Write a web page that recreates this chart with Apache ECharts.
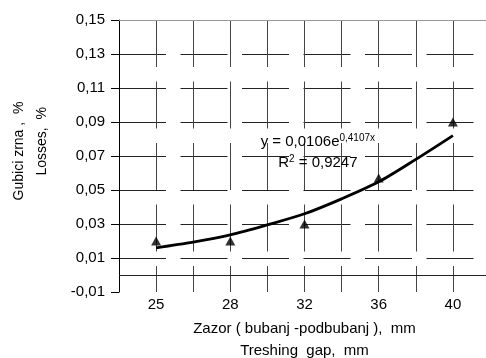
<!doctype html>
<html>
<head>
<meta charset="utf-8">
<title>Gubici zrna - zazor</title>
<script src="https://cdn.jsdelivr.net/npm/echarts@6/dist/echarts.min.js"></script>
<style>
	html, body { margin: 0; padding: 0; background: #fff; }
	#main { width: 486px; height: 358px; }
</style>
</head>
<body>
<div id="main"></div>
<script>
	// x categories: zazor (bubanj - podbubanj), mm
	var gaps = ['25', '28', '32', '36', '40'];
	// measured losses, %
	var losses = [0.02, 0.02, 0.03, 0.057, 0.09];
	// trend line (x = category number)
	var trendX = [1, 1.5, 2, 2.5, 3, 3.5, 4, 4.5, 5];
	var trendY = [0.016, 0.0193, 0.0236, 0.0295, 0.036, 0.0448, 0.0548, 0.068, 0.082];
	// y axis ticks
	var yMin = -0.01, yMax = 0.15, yStep = 0.02;

	var font = "'Liberation Sans', Arial, sans-serif";
	var dash = [47, 14.5];

	var points = losses.map(function (v, i) { return [i + 1, v]; });
	var trend = trendX.map(function (x, i) { return [x, trendY[i]]; });

	var chart = echarts.init(document.getElementById('main'), null, { renderer: 'canvas' });
	chart.setOption({
		animation: false,
		backgroundColor: '#fff',
		textStyle: { fontFamily: font },
		grid: { left: 119, top: 20, width: 371, bottom: 66, containLabel: false, outerBoundsMode: 'none' },
		xAxis: {
			type: 'value',
			min: 0.5, max: 5.5, interval: 0.5,
			axisLine: { show: false },
			axisTick: { show: false },
			axisLabel: {
				margin: 5, color: '#000', fontSize: 15, fontFamily: font,
				formatter: function (v) {
					return Number.isInteger(v) ? gaps[v - 1] || '' : '';
				}
			},
			splitLine: { show: true, showMinLine: false, lineStyle: { color: '#444', width: 1, type: dash } },
			name: 'Zazor ( bubanj -podbubanj ),  mm\nTreshing  gap,  mm',
			nameLocation: 'middle',
			nameGap: 26,
			nameTextStyle: { color: '#000', fontSize: 15, lineHeight: 22, fontFamily: font }
		},
		yAxis: {
			type: 'value',
			min: yMin, max: yMax, interval: yStep,
			axisLine: { show: true, onZero: false, lineStyle: { color: '#000', width: 1 } },
			axisTick: { show: true, length: 8, lineStyle: { color: '#000' } },
			axisLabel: {
				margin: 14, color: '#000', fontSize: 15, fontFamily: font,
				formatter: function (v) { return v.toFixed(2).replace('.', ','); }
			},
			splitLine: { show: true, showMinLine: false, lineStyle: { color: '#222', width: 1, type: dash } },
			name: 'Gubici zrna ,  %\n     Losses,  %',
			nameLocation: 'middle',
			nameRotate: 90,
			nameGap: 65,
			nameTextStyle: { color: '#000', fontSize: 14, lineHeight: 23, fontFamily: font, padding: [0, 0, 0, 10] }
		},
		series: [
			{
				type: 'scatter',
				data: points,
				symbol: 'triangle',
				symbolSize: [10, 9],
				itemStyle: { color: '#000' },
				markLine: {
					silent: true,
					symbol: ['none', 'none'],
					label: { show: false },
					data: [
						{ yAxis: 0, lineStyle: { color: '#222', width: 1, type: 'solid' } },
						{ yAxis: yMax, lineStyle: { color: '#999', width: 1, type: 'solid' } }
					]
				}
			},
			{
				type: 'line',
				data: trend,
				smooth: 0.3,
				showSymbol: false,
				lineStyle: { color: '#000', width: 2.8 },
				z: 5,
				markPoint: {
					symbol: 'circle',
					symbolSize: 0,
					data: [{ coord: [3.18, 0.072] }],
					label: {
						show: true,
						position: 'inside',
						color: '#000',
						fontFamily: font,
						formatter: '{m|y = 0,0106e}{sup|0,4107x}\n{m|R}{sup|2}{m| = 0,9247}',
						rich: {
							m: { fontSize: 15, lineHeight: 21, fontFamily: font, color: '#000' },
							sup: { fontSize: 10, verticalAlign: 'middle', padding: [0, 0, 8, 0], fontFamily: font, color: '#000' }
						}
					}
				}
			}
		]
	});
</script>
</body>
</html>
